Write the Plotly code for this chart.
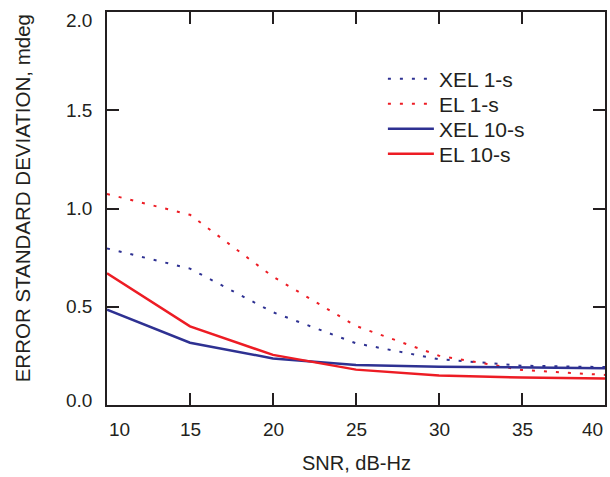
import plotly.graph_objects as go

snr = [10, 15, 20, 25, 30, 35, 40]
xel_1s = [0.797, 0.694, 0.472, 0.314, 0.233, 0.200, 0.193]
el_1s = [1.074, 0.968, 0.653, 0.402, 0.251, 0.178, 0.153]
xel_10s = [0.485, 0.317, 0.237, 0.204, 0.195, 0.190, 0.187]
el_10s = [0.670, 0.400, 0.255, 0.180, 0.150, 0.140, 0.135]

x_ticks = [10, 15, 20, 25, 30, 35, 40]
x_tick_text = ["10", "15", "20", "25", "30", "35", "40"]
y_ticks = [0.0, 0.5, 1.0, 1.5, 2.0]
y_tick_text = ["0.0", "0.5", "1.0", "1.5", "2.0"]

BLUE = "#2E3192"
RED = "#ED1C24"
AXIS = "#231F20"
FONT = "Liberation Sans, Arial, sans-serif"

W, H = 610, 477
ML, MR, MT, MB = 107, 3, 12, 72
PW, PH = W - ML - MR, H - MT - MB


def px_x(p):
    return (p - ML) / PW


def px_y(p):
    return (H - MB - p) / PH


series = [
    ("XEL 1-s", xel_1s, BLUE, 2, "3px,9px", 79),
    ("EL 1-s", el_1s, RED, 2, "3px,9px", 104),
    ("XEL 10-s", xel_10s, BLUE, 2.5, "solid", 129),
    ("EL 10-s", el_10s, RED, 2.5, "solid", 154),
]

fig = go.Figure()
legend_layout = {}
for i, (name, vals, color, width, dash, row_y) in enumerate(series):
    lname = "legend" if i == 0 else f"legend{i + 1}"
    fig.add_trace(go.Scatter(x=snr, y=vals, mode="lines", name=name, legend=lname,
                             line=dict(color=color, width=width, dash=dash)))
    legend_layout[lname] = dict(
        x=px_x(384), y=px_y(row_y), xanchor="left", yanchor="middle",
        bgcolor="rgba(0,0,0,0)", font=dict(size=21, color=AXIS, family=FONT),
        itemwidth=46,
    )

annotations = []
for v, t in zip(x_ticks, x_tick_text):
    anchor = "center"
    if v == x_ticks[0]:
        anchor = "left"
    elif v == x_ticks[-1]:
        anchor = "right"
    annotations.append(dict(x=v, xref="x", y=px_y(429), yref="paper", text=t,
                            showarrow=False, xanchor=anchor, yanchor="middle",
                            font=dict(size=19, color=AXIS, family=FONT)))
for v, t in zip(y_ticks, y_tick_text):
    shift = 0
    if v == y_ticks[0]:
        shift = 5
    elif v == y_ticks[-1]:
        shift = -8
    annotations.append(dict(x=px_x(94), xref="paper", y=v, yref="y", text=t,
                            showarrow=False, xanchor="right", yanchor="middle",
                            yshift=shift,
                            font=dict(size=19, color=AXIS, family=FONT)))
annotations.append(dict(x=px_x(357), xref="paper", y=px_y(463), yref="paper",
                        text="SNR, dB-Hz", showarrow=False, xanchor="center",
                        yanchor="middle", font=dict(size=20, color=AXIS, family=FONT)))
annotations.append(dict(x=px_x(22), xref="paper", y=px_y(198), yref="paper",
                        text="ERROR STANDARD DEVIATION, mdeg", showarrow=False,
                        textangle=-90, xanchor="center", yanchor="middle",
                        font=dict(size=20.5, color=AXIS, family=FONT)))

fig.update_layout(
    width=W, height=H,
    margin=dict(l=ML, r=MR, t=MT, b=MB),
    paper_bgcolor="white", plot_bgcolor="white",
    font=dict(family=FONT, size=19, color=AXIS),
    showlegend=True,
    annotations=annotations,
    xaxis=dict(
        range=[10, 40], tickvals=x_ticks, ticks="inside", ticklen=12, tickwidth=1.5,
        tickcolor=AXIS, showline=True, linecolor=AXIS, linewidth=2, mirror="ticks",
        showgrid=False, zeroline=False, showticklabels=False,
    ),
    yaxis=dict(
        range=[0, 2], tickvals=y_ticks, ticks="inside", ticklen=12,
        tickwidth=1.5, tickcolor=AXIS, showline=True, linecolor=AXIS, linewidth=2,
        mirror="ticks", showgrid=False, zeroline=False, showticklabels=False,
    ),
    **legend_layout,
)

fig.write_html("out.html")
